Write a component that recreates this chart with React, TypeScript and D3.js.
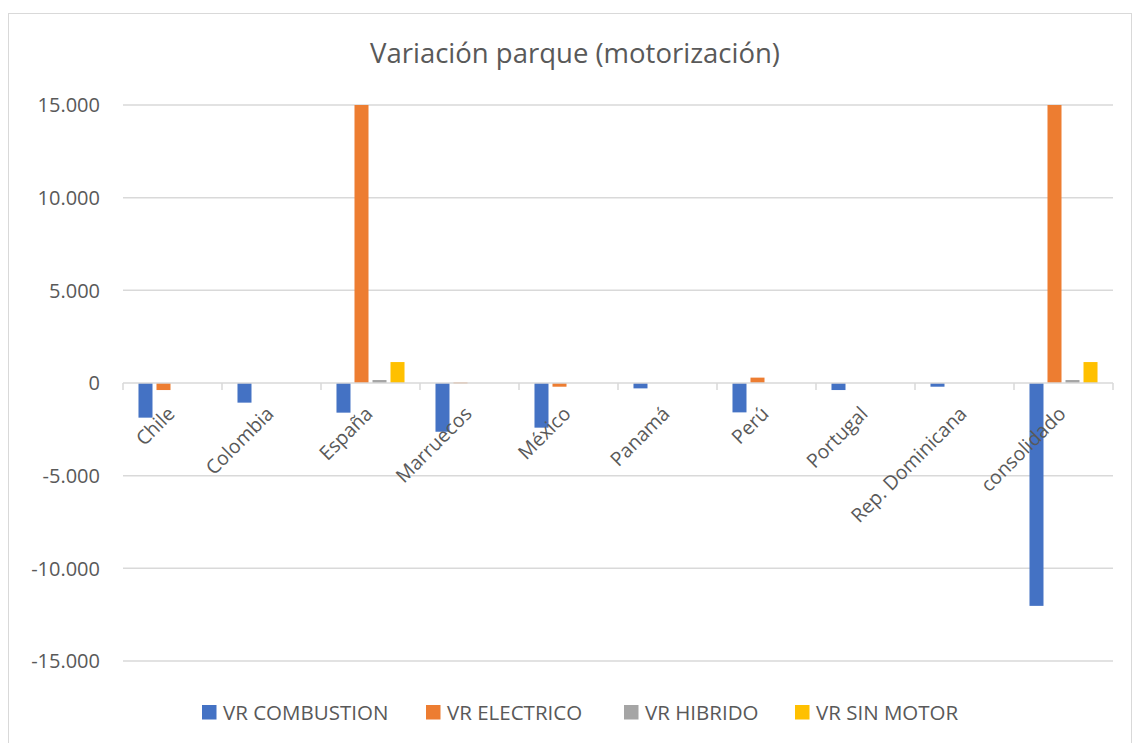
import React from "react";
import * as d3 from "d3";

const categories = [
  "Chile",
  "Colombia",
  "España",
  "Marruecos",
  "México",
  "Panamá",
  "Perú",
  "Portugal",
  "Rep. Dominicana",
  "consolidado",
];
const seriesNames = ["VR COMBUSTION", "VR ELECTRICO", "VR HIBRIDO", "VR SIN MOTOR"];
const combustion = [-1870, -1060, -1600, -2630, -2410, -290, -1585, -380, -200, -12025];
const electrico = [-380, 0, 15000, 30, -200, 0, 290, 0, 0, 15000];
const hibrido = [0, 0, 160, 0, 0, 0, 0, 0, 0, 160];
const sinMotor = [0, 0, 1130, 0, 0, 0, 0, 0, 0, 1130];
const yTicks = [-15000, -10000, -5000, 0, 5000, 10000, 15000];
const colors = ["#4472C4", "#ED7D31", "#A5A5A5", "#FFC000"];

const W = 1132;
const H = 743;
const plot = { left: 123, right: 1113, top: 105, bottom: 661 };
const legendX = [202, 426, 624, 795];

const locale = d3.formatLocale({
  decimal: ",",
  thousands: ".",
  grouping: [3],
  currency: ["", "€"],
  minus: "-",
});
const fmt = locale.format(",.0f");

export default function App() {
  const values = [combustion, electrico, hibrido, sinMotor];

  const x0 = d3.scaleBand().domain(categories).range([plot.left, plot.right]).padding(0);
  const x1 = d3
    .scaleBand()
    .domain(seriesNames)
    .range([0, x0.bandwidth()])
    .paddingInner(0.222)
    .paddingOuter(0.86);
  const y = d3.scaleLinear().domain([-15000, 15000]).range([plot.bottom, plot.top]);

  const font = "'Open Sans', sans-serif";
  const grey = "#595959";
  const line = "#D9D9D9";
  const zeroY = y(0);

  return (
    <svg
      width={W}
      height={H}
      style={{ position: "absolute", left: 0, top: 0, background: "#fff" }}
      fontFamily={font}
    >
      <defs>
        <clipPath id="plotclip">
          <rect x={plot.left} y={plot.top} width={plot.right - plot.left} height={plot.bottom - plot.top} />
        </clipPath>
      </defs>
      <rect x={8.5} y={13.5} width={W - 9} height={H} fill="#fff" stroke={line} strokeWidth={1} />

      <text x={575} y={63} textAnchor="middle" fontSize={27.5} fill={grey}>
        Variación parque (motorización)
      </text>

      {/* gridlines + y labels */}
      {yTicks.map((t) => (
        <g key={t}>
          {t !== 0 && (
            <line x1={plot.left} x2={plot.right} y1={y(t)} y2={y(t)} stroke={line} strokeWidth={1.5} />
          )}
          <text x={100} y={y(t)} dy="0.36em" textAnchor="end" fontSize={20} fill={grey}>
            {fmt(t)}
          </text>
        </g>
      ))}

      {/* bars */}
      <g clipPath="url(#plotclip)">
        {categories.map((c, i) => (
          <g key={c} transform={`translate(${x0(c)},0)`}>
            {seriesNames.map((s, j) => {
              const v = values[j][i];
              if (!v) return null;
              const top = y(Math.max(0, v));
              const bot = y(Math.min(0, v));
              return (
                <rect
                  key={s}
                  x={x1(s)}
                  y={top}
                  width={x1.bandwidth()}
                  height={Math.max(1, bot - top)}
                  fill={colors[j]}
                />
              );
            })}
          </g>
        ))}
      </g>

      {/* zero axis */}
      <line x1={plot.left} x2={plot.right} y1={zeroY} y2={zeroY} stroke={line} strokeWidth={1.5} />
      {categories.map((c) => (
        <line key={c} x1={x0(c)} x2={x0(c)} y1={zeroY} y2={zeroY + 7} stroke={line} strokeWidth={1.5} />
      ))}
      <line x1={plot.right} x2={plot.right} y1={zeroY} y2={zeroY + 7} stroke={line} strokeWidth={1.5} />

      {/* category labels */}
      {categories.map((c) => (
        <text
          key={c}
          transform={`translate(${(x0(c) ?? 0) + x0.bandwidth() / 2 + 3.5},${zeroY + 32}) rotate(-45)`}
          textAnchor="end"
          fontSize={19.5}
          fill={grey}
        >
          {c}
        </text>
      ))}

      {/* legend */}
      {seriesNames.map((s, j) => (
        <g key={s} transform={`translate(${legendX[j]},705)`}>
          <rect x={0} y={0} width={14.5} height={14.5} fill={colors[j]} />
          <text x={21} y={15} fontSize={20.5} fill={grey}>
            {s}
          </text>
        </g>
      ))}
    </svg>
  );
}
